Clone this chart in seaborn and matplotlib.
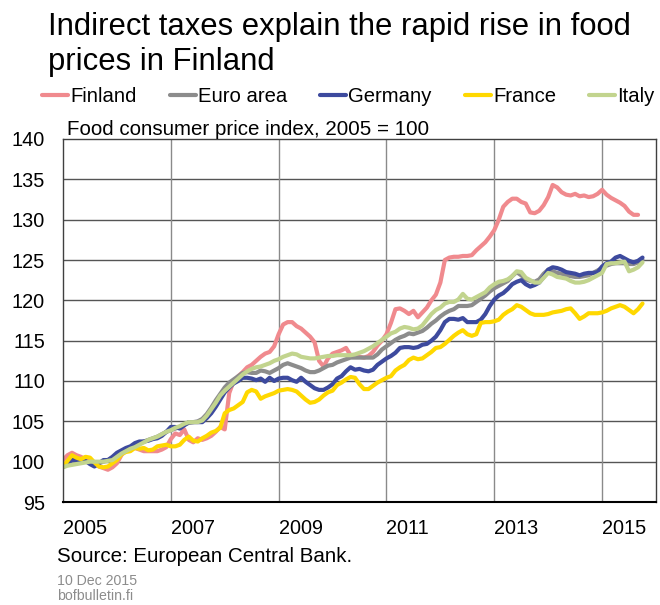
"""
plot.py — Food consumer price index, Finland vs euro area peers (2005 = 100).
"""

import numpy as np
import pandas as pd
import matplotlib
matplotlib.use("Agg")
import matplotlib.pyplot as plt
import seaborn as sns

# ── Data (monthly, Jan 2005 onwards) ───────────────────────────────────────────
START_YEAR = 2005

finland = [
    100.2, 100.8, 101.1, 100.8, 100.6, 100.3, 100.1, 99.8, 99.4, 99.2, 99.0, 99.3,
    99.8, 100.8, 101.5, 101.7, 101.7, 101.5, 101.3, 101.3, 101.3, 101.3, 101.5, 101.8,
    102.8, 103.5, 103.3, 104.0, 102.7, 102.4, 102.9, 102.7, 102.9, 103.2, 103.7, 104.3,
    104.0, 108.5, 110.0, 110.6, 111.1, 111.7, 112.0, 112.5, 113.0, 113.4, 113.6, 114.3,
    115.8, 117.0, 117.3, 117.3, 116.8, 116.5, 116.0, 115.5, 114.8, 112.5, 111.8, 112.8,
    113.4, 113.6, 113.8, 114.1, 113.2, 113.0, 113.0, 112.9, 113.1, 113.6, 114.4, 115.0,
    115.8, 117.2, 118.9, 119.0, 118.7, 118.3, 118.7, 117.9, 118.5, 119.1, 120.0, 120.7,
    122.2, 125.0, 125.3, 125.4, 125.4, 125.5, 125.5, 125.6, 126.2, 126.7, 127.2, 127.9,
    128.7, 130.0, 131.6, 132.2, 132.6, 132.6, 132.2, 132.0, 130.9, 130.8, 131.1, 131.8,
    132.8, 134.3, 134.0, 133.4, 133.1, 133.0, 133.2, 132.9, 133.0, 132.8, 132.9, 133.2,
    133.7, 133.1, 132.7, 132.4, 132.1, 131.7, 131.0, 130.6, 130.6,
]

euro_area = [
    99.6, 99.8, 100.0, 100.1, 100.1, 100.0, 99.9, 99.8, 99.8, 100.0, 100.2, 100.5,
    100.8, 101.1, 101.4, 101.7, 102.0, 102.3, 102.5, 102.7, 102.9, 103.1, 103.4, 103.7,
    103.9, 104.1, 104.3, 104.6, 104.8, 104.9, 105.0, 105.3, 105.9, 106.7, 107.6, 108.4,
    109.2, 109.8, 110.2, 110.6, 111.0, 111.1, 111.0, 111.0, 111.3, 111.2, 111.0, 111.3,
    111.6, 112.0, 112.2, 112.0, 111.8, 111.6, 111.3, 111.1, 111.1, 111.3, 111.6, 111.9,
    112.0, 112.3, 112.5, 112.7, 112.9, 112.9, 112.9, 112.9, 112.9, 112.9, 113.3, 113.9,
    114.3, 114.7, 115.1, 115.4, 115.6, 115.9, 115.8, 116.0, 116.2, 116.6, 117.1, 117.5,
    118.0, 118.4, 118.7, 118.9, 119.3, 119.3, 119.3, 119.4, 119.8, 120.2, 120.6, 121.1,
    121.5, 121.8, 122.1, 122.4, 123.0, 123.5, 123.1, 122.6, 122.4, 122.3, 122.6, 123.3,
    123.8, 123.6, 123.4, 123.3, 123.1, 123.0, 122.9, 122.9, 123.0, 123.1, 123.4, 123.7,
    124.0, 124.3, 124.5, 124.6, 124.6, 124.6, 124.5, 124.5, 124.7, 125.0,
]

germany = [
    99.3, 99.8, 100.2, 100.2, 100.2, 100.1, 99.7, 99.4, 99.8, 100.2, 100.2, 100.6,
    101.1, 101.4, 101.7, 101.9, 102.3, 102.5, 102.5, 102.6, 102.8, 102.9, 103.2, 103.7,
    104.3, 104.3, 104.1, 104.5, 104.9, 104.9, 104.9, 104.9, 105.4, 106.0, 106.8, 107.7,
    108.6, 109.2, 109.7, 110.0, 110.4, 110.4, 110.3, 110.1, 110.3, 109.9, 110.4, 110.0,
    110.3, 110.4, 110.4, 110.1, 109.9, 110.4, 109.9, 109.5, 109.1, 108.9, 108.9, 109.2,
    109.6, 110.3, 110.6, 111.2, 111.7, 111.4, 111.5, 111.3, 111.2, 111.4, 112.0, 112.4,
    112.8, 113.1, 113.5, 114.1, 114.2, 114.2, 114.1, 114.2, 114.5, 114.6, 115.0, 115.5,
    116.3, 117.3, 117.7, 117.7, 117.6, 117.8, 117.3, 117.3, 117.3, 117.6, 118.3, 119.3,
    120.1, 120.6, 120.9, 121.4, 122.0, 122.3, 122.5, 122.0, 121.7, 121.9, 122.2, 122.9,
    123.8, 124.1, 124.0, 123.8, 123.5, 123.4, 123.3, 123.1, 123.3, 123.4, 123.4, 123.5,
    124.2, 124.6, 124.8, 125.3, 125.5, 125.2, 124.9, 124.7, 124.9, 125.3,
]

france = [
    99.4, 100.1, 100.8, 100.5, 100.3, 100.6, 100.5, 99.9, 99.4, 99.3, 99.4, 99.8,
    100.2, 100.9, 101.2, 101.3, 101.7, 101.6, 101.7, 101.4, 101.5, 101.9, 102.0, 102.1,
    101.9, 101.9, 102.1, 102.7, 103.1, 102.6, 102.5, 102.9, 103.2, 103.6, 103.8, 104.2,
    106.0, 106.4, 106.6, 107.0, 107.4, 108.6, 108.9, 108.7, 107.8, 108.1, 108.3, 108.5,
    108.8, 108.9, 109.0, 108.9, 108.7, 108.2, 107.7, 107.3, 107.4, 107.7, 108.2, 108.6,
    108.8, 109.5, 109.8, 110.2, 110.5, 110.4, 109.6, 109.0, 109.0, 109.4, 109.8, 110.1,
    110.4, 110.6, 111.3, 111.7, 112.0, 112.6, 112.9, 112.7, 112.8, 113.2, 113.6, 114.1,
    114.2, 114.6, 115.1, 115.6, 116.0, 116.3, 115.8, 115.6, 115.8, 117.2, 117.3, 117.3,
    117.4, 117.6, 118.2, 118.6, 118.9, 119.4, 119.2, 118.8, 118.4, 118.2, 118.2, 118.2,
    118.3, 118.5, 118.6, 118.7, 118.9, 119.0, 118.4, 117.7, 118.0, 118.4, 118.4, 118.4,
    118.5, 118.7, 119.0, 119.2, 119.4, 119.2, 118.8, 118.4, 118.9, 119.6,
]

italy = [
    99.3, 99.5, 99.6, 99.7, 99.8, 99.9, 100.0, 100.0, 100.0, 100.0, 100.1, 100.2,
    100.6, 101.0, 101.3, 101.6, 101.8, 102.1, 102.4, 102.7, 102.9, 103.1, 103.4, 103.7,
    103.9, 104.2, 104.4, 104.7, 104.9, 104.9, 104.9, 105.1, 105.7, 106.5, 107.3, 108.2,
    108.8, 109.3, 109.8, 110.3, 110.8, 111.2, 111.5, 111.7, 111.8, 112.0, 112.2, 112.5,
    112.7, 113.0, 113.2, 113.4, 113.3, 113.0, 112.9, 112.8, 112.8, 112.9, 113.0, 113.1,
    113.1, 113.2, 113.2, 113.2, 113.2, 113.3, 113.5, 113.7, 114.0, 114.3, 114.7, 115.1,
    115.5, 115.9, 116.1, 116.5, 116.7, 116.6, 116.4, 116.5, 116.9, 117.6, 118.3, 118.8,
    119.1, 119.6, 119.8, 119.8, 120.1, 120.8, 120.2, 120.1, 120.4, 120.7, 121.0, 121.6,
    122.0, 122.3, 122.4, 122.6, 123.0, 123.6, 123.5, 122.8, 122.5, 122.2, 122.2, 122.8,
    123.4, 123.2, 122.9, 122.8, 122.7, 122.4, 122.2, 122.2, 122.3, 122.5, 122.8, 123.1,
    123.4, 124.5, 124.6, 124.6, 124.7, 124.8, 123.6, 123.8, 124.1, 124.7,
]

SERIES = {
    "Finland": finland,
    "Euro area": euro_area,
    "Germany": germany,
    "France": france,
    "Italy": italy,
}
COLORS = {
    "Finland": "#F08A8E",
    "Euro area": "#8C8C8C",
    "Germany": "#3D4A9E",
    "France": "#FFD800",
    "Italy": "#C2D48E",
}

YEAR_LABELS = ["2005", "2007", "2009", "2011", "2013", "2015"]
Y_TICKS = [95, 100, 105, 110, 115, 120, 125, 130, 135, 140]

# ── Long table for seaborn ─────────────────────────────────────────────────────
frames = []
for name, vals in SERIES.items():
    months = np.arange(len(vals))
    frames.append(pd.DataFrame({
        "date": START_YEAR + months / 12.0,
        "index": vals,
        "country": name,
    }))
df = pd.concat(frames, ignore_index=True)

# ── Figure ─────────────────────────────────────────────────────────────────────
sns.set_style("white")
plt.rcParams["font.family"] = ["Liberation Sans", "DejaVu Sans"]
plt.rcParams["text.color"] = "black"

W, H = 660, 605
fig = plt.figure(figsize=(W / 100, H / 100), dpi=100)
ax = fig.add_axes([63 / W, 1 - 502 / H, (656 - 63) / W, (502 - 139) / H])

sns.lineplot(
    data=df, x="date", y="index", hue="country",
    hue_order=list(SERIES), palette=COLORS,
    linewidth=3.0, ax=ax, legend=False,
)

ax.set_xlim(2005, 2016)
ax.set_ylim(95, 140)
ax.set_xlabel("")
ax.set_ylabel("")

# grid: horizontal every 5, vertical at odd years
ax.set_yticks(Y_TICKS)
ax.set_yticklabels([str(t) for t in Y_TICKS])
for t in Y_TICKS[1:-1]:
    ax.axhline(t, color="#555555", lw=1.0, zorder=0)
major_years = [int(y) for y in YEAR_LABELS]
ax.set_xticks(major_years)
ax.set_xticklabels(YEAR_LABELS, ha="left")
ax.set_xticks(list(range(2006, 2016, 2)), minor=True)
for yr in major_years[1:]:
    ax.axvline(yr, color="#8a8a8a", lw=1.0, zorder=0)

ax.tick_params(axis="y", length=0, pad=13, labelsize=14.3, labelcolor="black")
ax.tick_params(axis="x", which="major", length=0, pad=12, labelsize=14.3,
               labelcolor="black")
ax.tick_params(axis="x", which="minor", direction="in", length=5,
               width=1, color="#8a8a8a")

for side in ["left", "right", "top"]:
    ax.spines[side].set_color("#404040")
    ax.spines[side].set_linewidth(1.0)
ax.spines["bottom"].set_color("black")
ax.spines["bottom"].set_linewidth(1.5)

# ── Legend ─────────────────────────────────────────────────────────────────────
handles = [plt.Line2D([], [], color=COLORS[n], lw=3.0) for n in SERIES]
fig.legend(
    handles, list(SERIES), ncol=5, frameon=False,
    loc="center left", bbox_to_anchor=(42 / W, 1 - 97 / H),
    fontsize=14.6, handlelength=1.3, handletextpad=0.1,
    columnspacing=1.62, borderpad=0, borderaxespad=0,
)

# ── Texts ──────────────────────────────────────────────────────────────────────
fig.text(48 / W, 1 - 12 / H,
         "Indirect taxes explain the rapid rise in food\nprices in Finland",
         fontsize=22.3, va="top", ha="left", linespacing=1.2)
fig.text(67 / W, 1 - 135 / H, "Food consumer price index, 2005 = 100",
         fontsize=14.8, va="baseline", ha="left")
fig.text(57 / W, 1 - 556 / H, "Source: European Central Bank.",
         fontsize=14.8, va="center", ha="left")
fig.text(57 / W, 1 - 581 / H, "10 Dec 2015",
         fontsize=10.2, color="#8c8c8c", va="center", ha="left")
fig.text(57 / W, 1 - 589 / H, "bofbulletin.fi",
         fontsize=10.2, color="#8c8c8c", va="top", ha="left")

fig.savefig("out.png", dpi=100)
plt.close(fig)
